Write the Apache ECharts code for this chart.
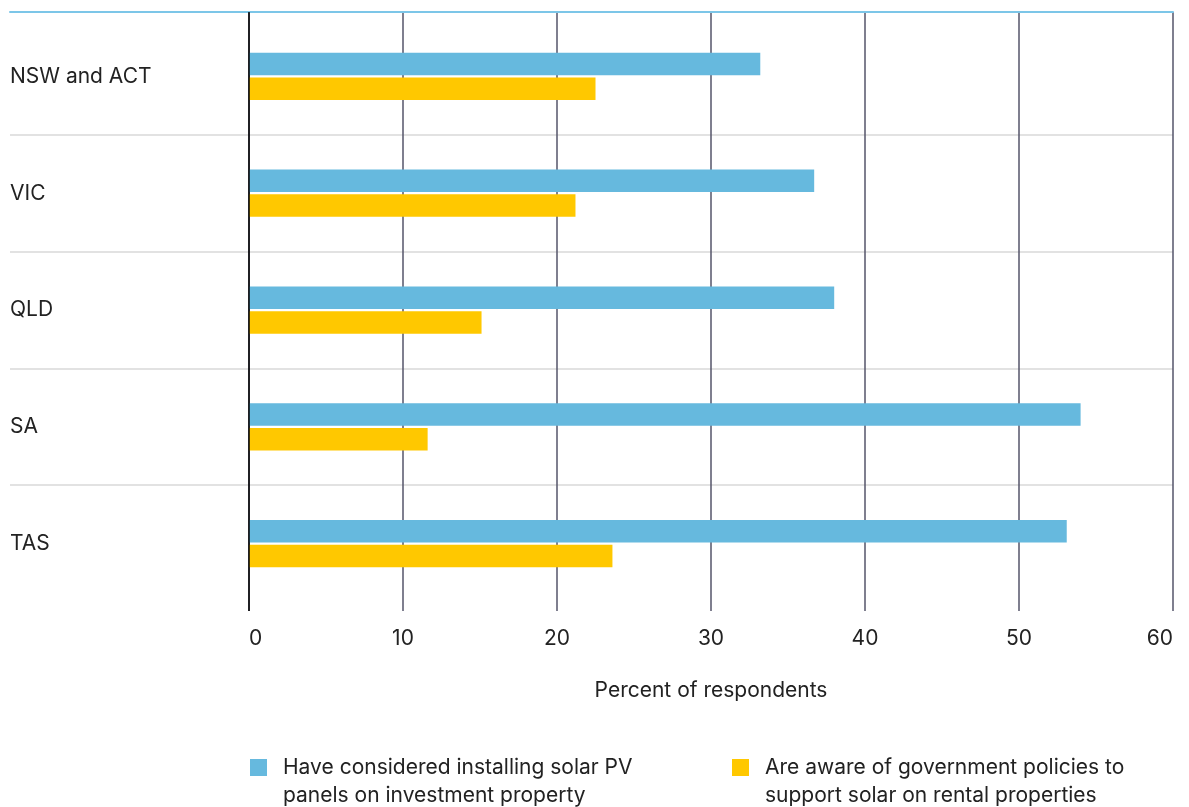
<!DOCTYPE html>
<html>
<head>
<meta charset="utf-8">
<script src="https://cdn.jsdelivr.net/npm/echarts@6/dist/echarts.min.js"></script>
<style>
  html, body { margin: 0; padding: 0; background: #fff; }
  #chart { width: 1189px; height: 807px; }
</style>
</head>
<body>
<div id="chart"></div>
<script>
// States / territories, top to bottom
const categories = ['NSW and ACT', 'VIC', 'QLD', 'SA', 'TAS'];

// Percent of respondents
const consideredSolar = [33.2, 36.7, 38.0, 54.0, 53.1];
const awarePolicies = [22.5, 21.2, 15.1, 11.6, 23.6];

const seriesNames = [
  'Have considered installing solar PV',
  'Are aware of government policies to'
];
const seriesNamesLine2 = [
  'panels on investment property',
  'support solar on rental properties'
];

const xMin = 0, xMax = 60, xStep = 10;
const axisTitle = 'Percent of respondents';

const FONT = 'Inter, Lato, sans-serif';
const FS = 21;
const TEXT = '#222';
const BLUE = '#66b9de';
const YELLOW = '#ffc800';
const colors = [BLUE, YELLOW];

const chart = echarts.init(document.getElementById('chart'), null, { renderer: 'canvas' });

// Legend entry: coloured square beside a two-line caption
function legendFor(i, left) {
  return {
    data: [seriesNames[i]], left: left, top: 757, padding: 0,
    itemWidth: 0, itemHeight: 0, itemGap: 0, icon: 'none', selectedMode: false,
    formatter: () => '{sq|}{t|' + seriesNames[i] + '}\n{ind|}{t|' + seriesNamesLine2[i] + '}',
    textStyle: {
      fontFamily: FONT, fontSize: FS, color: TEXT,
      rich: {
        sq: { width: 17, height: 17, backgroundColor: colors[i], verticalAlign: 'middle' },
        ind: { width: 17, height: 17 },
        t: { fontFamily: FONT, fontSize: FS, color: TEXT, lineHeight: 28, padding: [0, 0, 0, 16] }
      }
    }
  };
}

chart.setOption({
  animation: false,
  backgroundColor: '#fff',
  legend: [legendFor(0, 245), legendFor(1, 727)],
  grid: [
    // value-axis gridlines and tick labels
    { left: 249, right: 16, top: 12, bottom: 196 },
    // category labels and row separators
    { left: 10, right: 16, top: 18, bottom: 205 },
    // bars
    { left: 249, right: 16, top: 18, bottom: 205 }
  ],
  xAxis: [
    {
      gridIndex: 0, type: 'value', min: xMin, max: xMax, interval: xStep,
      axisLine: { show: false }, axisTick: { show: false },
      splitLine: { lineStyle: { width: 1.5, color: '#55556a' } },
      axisLabel: {
        fontFamily: FONT, fontSize: FS, color: TEXT, margin: 17,
        alignMinLabel: 'left', alignMaxLabel: 'right'
      },
      name: axisTitle, nameLocation: 'middle', nameGap: 69,
      nameTextStyle: { fontFamily: FONT, fontSize: FS, color: TEXT }
    },
    {
      gridIndex: 1, type: 'value', min: 0, max: 1, position: 'top', offset: 6,
      axisLine: { show: true, lineStyle: { color: '#7cc6e8', width: 2 } },
      axisTick: { show: false }, axisLabel: { show: false }, splitLine: { show: false }
    },
    {
      gridIndex: 2, type: 'value', min: xMin, max: xMax, show: false
    }
  ],
  yAxis: [
    { gridIndex: 0, type: 'value', show: false },
    {
      gridIndex: 1, type: 'category', data: categories, inverse: true,
      axisLine: { show: false }, axisTick: { show: false },
      axisLabel: { inside: true, fontFamily: FONT, fontSize: FS, color: TEXT, margin: 0,
        padding: [4, 0, 0, 0] },
      splitLine: { show: true, showMinLine: false, showMaxLine: false,
        lineStyle: { color: '#e2e2e2', width: 2 } }
    },
    { gridIndex: 2, type: 'category', data: categories, inverse: true, show: false }
  ],
  series: [
    {
      name: seriesNames[0], type: 'bar', xAxisIndex: 2, yAxisIndex: 2,
      data: consideredSolar, barWidth: 22.5, barGap: '10%',
      itemStyle: { color: BLUE }
    },
    {
      name: seriesNames[1], type: 'bar', xAxisIndex: 2, yAxisIndex: 2,
      data: awarePolicies, barWidth: 22.5, barGap: '10%',
      itemStyle: { color: YELLOW }
    },
    {
      // zero baseline drawn darker than the other gridlines
      type: 'line', xAxisIndex: 0, yAxisIndex: 0, silent: true, data: [],
      markLine: {
        symbol: 'none', silent: true, label: { show: false },
        lineStyle: { color: '#000', width: 1.5, type: 'solid' },
        data: [{ xAxis: 0 }]
      }
    }
  ]
});
</script>
</body>
</html>
